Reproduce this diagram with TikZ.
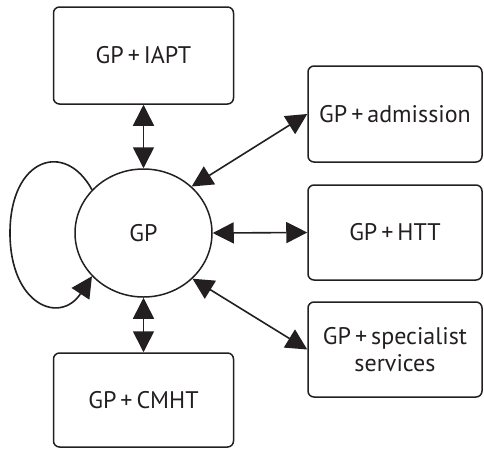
\documentclass[tikz,border=0pt]{standalone}
\usepackage{fontspec}
\setmainfont{PT Sans}
\usetikzlibrary{shapes.geometric,arrows.meta}
\definecolor{ink}{HTML}{231F20}
\begin{document}
\begin{tikzpicture}[x=1pt,y=-1pt,
  every node/.style={font=\fontsize{24}{27}\selectfont, text=ink},
  boxnode/.style={draw=ink, line width=1.5pt, rounded corners=6pt, inner sep=0pt, align=center},
  hub/.style={ellipse, draw=ink, line width=1.5pt, minimum width=137pt, minimum height=128pt, inner sep=0pt},
  link/.style={draw=ink, line width=1.6pt, {Triangle[length=21pt,width=21pt]}-{Triangle[length=21pt,width=21pt]}},
  selfloop/.style={draw=ink, line width=1.6pt, -{Triangle[length=21pt,width=21pt]}}]
\useasboundingbox (0,0) rectangle (484,448);

\node[hub] (gp) at (143.5,233) {GP};
\node[boxnode, minimum width=180pt, minimum height=97pt] (iapt) at (143.5,55.5) {GP\,+\,IAPT};
\node[boxnode, minimum width=180pt, minimum height=94pt] (cmht) at (143.5,400) {GP\,+\,CMHT};
\node[boxnode, minimum width=174pt, minimum height=96pt] (adm) at (395,114) {GP\,+\,admission};
\node[boxnode, minimum width=174pt, minimum height=95pt] (htt) at (395,232.5) {GP\,+\,HTT};
\node[boxnode, minimum width=174pt, minimum height=95pt] (spec) at (395,349.5) {GP\,+\,specialist\\services};

\draw[link] (iapt.south) -- (gp.north);
\draw[link] (gp.south) -- (cmht.north);
\draw[link] (gp.44) -- (adm.west);
\draw[link] (gp.east) -- (htt.west);
\draw[link] (gp.-43) -- (spec.west);

\draw[selfloop] (gp.140) .. controls (65,140) and (10,158) .. (10,233)
  .. controls (10,305) and (60,325) .. (gp.220);
\end{tikzpicture}
\end{document}
